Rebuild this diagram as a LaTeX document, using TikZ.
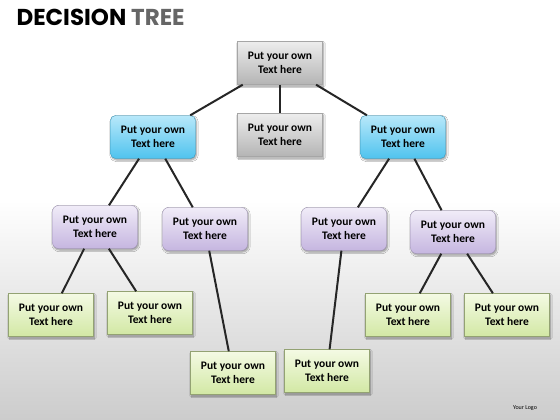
\documentclass[tikz,border=0pt]{standalone}
\usepackage{fontspec}
\setsansfont{Carlito}
\newfontfamily\titlefont{Poppins}
\usetikzlibrary{positioning}
\usetikzlibrary{shadows.blur}
\definecolor{greybot}{HTML}{B4B4B4}
\definecolor{greytop}{HTML}{EDEDED}
\definecolor{bluebot}{HTML}{4FC3EE}
\definecolor{bluetop}{HTML}{B8E8FA}
\definecolor{lilacbot}{HTML}{C6B6E0}
\definecolor{lilactop}{HTML}{F0ECF8}
\definecolor{limebot}{HTML}{D2E8A4}
\definecolor{limetop}{HTML}{F4FAE4}
\definecolor{bgbot}{HTML}{CCCCCC}
\tikzset{
	box/.style={
			minimum width=85pt, minimum height=43pt, align=center,
			font=\sffamily\bfseries\fontsize{11.5}{14.5}\selectfont,
			blur shadow={shadow blur steps=5, shadow xshift=1pt, shadow yshift=-1.5pt}
		},
	greybox/.style={box, draw=gray!70, top color=greytop, bottom color=greybot},
	bluebox/.style={box, rounded corners=5pt, draw=bluebot!80!black, top color=bluetop, bottom color=bluebot},
	lilacbox/.style={box, rounded corners=6pt, draw=lilacbot!80!black, top color=lilactop, bottom color=lilacbot},
	limebox/.style={box, draw=limebot!70!black, top color=limetop, bottom color=limebot},
	branch/.style={line width=2pt, draw=black!85}
}

\begin{document}
\begin{tikzpicture}[x=1pt, y=-1pt]

  % background
  \useasboundingbox (0,0) rectangle (560,420);
  \fill[white] (0,0) rectangle (560,200);
  \shade[top color=white, bottom color=bgbot] (0,200) rectangle (560,420);

  \node[anchor=west, font=\titlefont\bfseries\fontsize{23}{26}\selectfont] (title) at (13,17)
    {DECISION \textcolor{black!60}{TREE}};
  \node[font=\sffamily\fontsize{6}{7}\selectfont] (logo) at (525,408) {Your Logo};

  % level 0 and 1
  \node[greybox] (root) at (280,63) {Put your own\\Text here};
  \node[greybox] (mid) at (280,135) {Put your own\\Text here};
  \node[bluebox] (bl) at (153,137) {Put your own\\Text here};
  \node[bluebox] (br) at (403,137) {Put your own\\Text here};

  % level 2
  \node[lilacbox] (pl1) at (95,227) {Put your own\\Text here};
  \node[lilacbox] (pl2) at (205,229) {Put your own\\Text here};
  \node[lilacbox] (pr1) at (344,229) {Put your own\\Text here};
  \node[lilacbox] (pr2) at (453,232) {Put your own\\Text here};

  % leaves
  \node[limebox] (g1) at (51,315) {Put your own\\Text here};
  \node[limebox] (g2) at (150,313) {Put your own\\Text here};
  \node[limebox] (g3) at (233,373) {Put your own\\Text here};
  \node[limebox] (g4) at (327,371) {Put your own\\Text here};
  \node[limebox] (g5) at (408,315) {Put your own\\Text here};
  \node[limebox] (g6) at (507,315) {Put your own\\Text here};

  % branches
  \path[branch] (root) edge (bl) (root) edge (mid) (root) edge (br);
  \path[branch] (bl) edge (pl1) (bl) edge (pl2);
  \path[branch] (br) edge (pr1) (br) edge (pr2);
  \path[branch] (pl1) edge (g1) (pl1) edge (g2);
  \path[branch] (pl2) edge (g3) (pr1) edge (g4);
  \path[branch] (pr2) edge (g5) (pr2) edge (g6);

\end{tikzpicture}
\end{document}
